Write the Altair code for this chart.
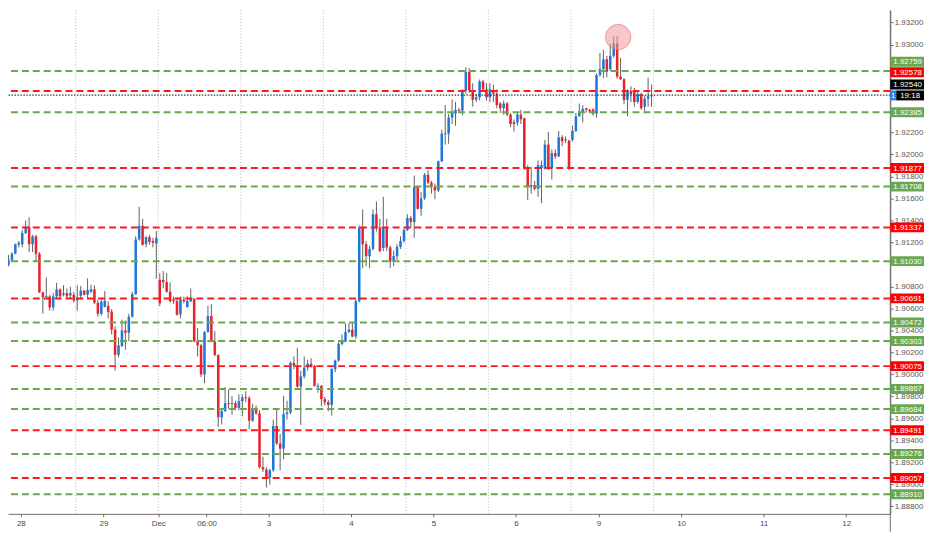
import altair as alt
import pandas as pd

# ---------------- data (hourly candles) ----------------
opens = [
    1.90997, 1.91040, 1.91097, 1.91181, 1.91184, 1.91285, 1.91342, 1.91184, 1.91256, 1.91097,
    1.90747, 1.90701, 1.90709, 1.90609, 1.90709, 1.90773, 1.90724, 1.90739, 1.90718, 1.90724,
    1.90672, 1.90715, 1.90761, 1.90724, 1.90752, 1.90773, 1.90652, 1.90551, 1.90614, 1.90623,
    1.90571, 1.90407, 1.90178, 1.90258, 1.90400, 1.90379, 1.90525, 1.90730, 1.91227, 1.91351,
    1.91184, 1.91248, 1.91213, 1.91190, 1.90859, 1.90859, 1.90839, 1.90752, 1.90681, 1.90666,
    1.90545, 1.90681, 1.90612, 1.90664, 1.90687, 1.90299, 1.90264, 1.89999, 1.90385, 1.90532,
    1.90299, 1.90178, 1.89611, 1.89665, 1.89738, 1.89732, 1.89738, 1.89695, 1.89755, 1.89790,
    1.89784, 1.89579, 1.89695, 1.89646, 1.89156, 1.89134, 1.89061, 1.89128, 1.89531, 1.89372,
    1.89324, 1.89639, 1.89654, 1.90105, 1.90077, 1.89890, 1.89982, 1.90062, 1.90097, 1.90077,
    1.89884, 1.89896, 1.89775, 1.89746, 1.89723, 1.90048, 1.90126, 1.90278, 1.90299, 1.90385,
    1.90407, 1.90344, 1.90666, 1.91336, 1.91184, 1.91075, 1.91141, 1.91457, 1.91336, 1.91150,
    1.91336, 1.91155, 1.91026, 1.91075, 1.91161, 1.91213, 1.91313, 1.91423, 1.91386, 1.91707,
    1.91506, 1.91601, 1.91817, 1.91744, 1.91707, 1.91673, 1.91938, 1.92184, 1.92190, 1.92335,
    1.92372, 1.92406, 1.92400, 1.92579, 1.92751, 1.92585, 1.92498, 1.92521, 1.92665, 1.92593,
    1.92521, 1.92585, 1.92555, 1.92464, 1.92421, 1.92464, 1.92363, 1.92294, 1.92291, 1.92363,
    1.92329, 1.91874, 1.91707, 1.91722, 1.91688, 1.91874, 1.91874, 1.92090, 1.91874, 1.92012,
    1.91983, 1.92156, 1.92139, 1.92127, 1.92133, 1.92214, 1.92348, 1.92386, 1.92419, 1.92406,
    1.92410, 1.92372, 1.92723, 1.92777, 1.92866, 1.92777, 1.92898, 1.93010, 1.92708, 1.92685,
    1.92497, 1.92579, 1.92570, 1.92478, 1.92550, 1.92435, 1.92507, 1.92530,
]
highs = [
    1.91086, 1.91112, 1.91190, 1.91213, 1.91313, 1.91399, 1.91429, 1.91270, 1.91270, 1.91112,
    1.90752, 1.90882, 1.90724, 1.90739, 1.90833, 1.90782, 1.90810, 1.90782, 1.90796, 1.90752,
    1.90810, 1.90804, 1.90767, 1.90873, 1.90816, 1.90810, 1.90681, 1.90681, 1.90758, 1.90666,
    1.90594, 1.90437, 1.90336, 1.90500, 1.90491, 1.90551, 1.90752, 1.91256, 1.91524, 1.91414,
    1.91259, 1.91270, 1.91242, 1.91304, 1.90922, 1.90940, 1.90922, 1.90836, 1.90707, 1.90698,
    1.90709, 1.90707, 1.90709, 1.90782, 1.90695, 1.90422, 1.90278, 1.90393, 1.90623, 1.90638,
    1.90393, 1.90178, 1.89689, 1.89884, 1.89861, 1.89803, 1.89760, 1.89818, 1.89818, 1.89847,
    1.89803, 1.89732, 1.89717, 1.89674, 1.89251, 1.89156, 1.89143, 1.89588, 1.89689, 1.89458,
    1.89803, 1.89760, 1.90120, 1.90163, 1.90241, 1.90034, 1.90163, 1.90135, 1.90148, 1.90086,
    1.89919, 1.89904, 1.89795, 1.89769, 1.90062, 1.90135, 1.90293, 1.90364, 1.90465, 1.90465,
    1.90465, 1.90681, 1.91354, 1.91500, 1.91213, 1.91170, 1.91500, 1.91572, 1.91414, 1.91615,
    1.91414, 1.91170, 1.91127, 1.91184, 1.91256, 1.91328, 1.91457, 1.91443, 1.91808, 1.91716,
    1.91658, 1.91831, 1.91860, 1.91759, 1.91736, 1.91946, 1.92225, 1.92449, 1.92369, 1.92501,
    1.92478, 1.92423, 1.92593, 1.92794, 1.92786, 1.92648, 1.92550, 1.92682, 1.92680, 1.92650,
    1.92650, 1.92636, 1.92593, 1.92478, 1.92492, 1.92478, 1.92378, 1.92320, 1.92378, 1.92406,
    1.92335, 1.91903, 1.91889, 1.91759, 1.91946, 1.91946, 1.92133, 1.92205, 1.92046, 1.92046,
    1.92214, 1.92176, 1.92165, 1.92133, 1.92262, 1.92378, 1.92464, 1.92449, 1.92426, 1.92415,
    1.92421, 1.92737, 1.92924, 1.92952, 1.92898, 1.93010, 1.93079, 1.93079, 1.92881, 1.92693,
    1.92593, 1.92622, 1.92607, 1.92579, 1.92564, 1.92536, 1.92699, 1.92637,
]
lows = [
    1.90983, 1.91026, 1.91092, 1.91155, 1.91155, 1.91276, 1.91112, 1.91112, 1.91026, 1.90739,
    1.90551, 1.90698, 1.90580, 1.90580, 1.90695, 1.90695, 1.90709, 1.90695, 1.90695, 1.90652,
    1.90580, 1.90681, 1.90718, 1.90681, 1.90739, 1.90638, 1.90525, 1.90534, 1.90609, 1.90508,
    1.90362, 1.90034, 1.90155, 1.90249, 1.90224, 1.90301, 1.90517, 1.90724, 1.91216, 1.91170,
    1.91155, 1.91179, 1.91155, 1.90871, 1.90620, 1.90784, 1.90741, 1.90652, 1.90638, 1.90534,
    1.90508, 1.90646, 1.90607, 1.90659, 1.90293, 1.90163, 1.89976, 1.89919, 1.90379, 1.90293,
    1.90163, 1.89522, 1.89545, 1.89660, 1.89689, 1.89631, 1.89674, 1.89674, 1.89617, 1.89746,
    1.89501, 1.89568, 1.89631, 1.89143, 1.89113, 1.88970, 1.88998, 1.89113, 1.89358, 1.89128,
    1.89229, 1.89588, 1.89639, 1.90048, 1.89878, 1.89539, 1.89962, 1.90034, 1.90062, 1.89890,
    1.89833, 1.89712, 1.89717, 1.89665, 1.89626, 1.90019, 1.90114, 1.90264, 1.90293, 1.90379,
    1.90336, 1.90321, 1.90655, 1.90965, 1.90983, 1.90968, 1.91127, 1.91299, 1.91112, 1.91121,
    1.91121, 1.90968, 1.90983, 1.91040, 1.91141, 1.91198, 1.91305, 1.91328, 1.91242, 1.91500,
    1.91443, 1.91587, 1.91731, 1.91644, 1.91593, 1.91658, 1.91932, 1.92090, 1.92098, 1.92277,
    1.92262, 1.92389, 1.92357, 1.92550, 1.92561, 1.92435, 1.92478, 1.92492, 1.92579, 1.92492,
    1.92478, 1.92478, 1.92421, 1.92378, 1.92363, 1.92348, 1.92248, 1.92208, 1.92262, 1.92277,
    1.91860, 1.91587, 1.91644, 1.91673, 1.91615, 1.91558, 1.91860, 1.91860, 1.91774, 1.91960,
    1.91975, 1.92076, 1.92104, 1.91860, 1.92119, 1.92205, 1.92346, 1.92291, 1.92380, 1.92380,
    1.92354, 1.92335, 1.92708, 1.92693, 1.92702, 1.92760, 1.92881, 1.92691, 1.92678, 1.92458,
    1.92348, 1.92478, 1.92435, 1.92464, 1.92406, 1.92392, 1.92435, 1.92435,
]
closes = [
    1.91046, 1.91097, 1.91184, 1.91198, 1.91285, 1.91342, 1.91184, 1.91256, 1.91097, 1.90747,
    1.90701, 1.90711, 1.90609, 1.90709, 1.90773, 1.90709, 1.90739, 1.90709, 1.90739, 1.90672,
    1.90698, 1.90761, 1.90724, 1.90767, 1.90773, 1.90652, 1.90551, 1.90661, 1.90670, 1.90566,
    1.90407, 1.90178, 1.90264, 1.90400, 1.90379, 1.90525, 1.90730, 1.91227, 1.91351, 1.91179,
    1.91248, 1.91204, 1.91198, 1.91242, 1.90646, 1.90839, 1.90752, 1.90666, 1.90666, 1.90543,
    1.90681, 1.90664, 1.90668, 1.90687, 1.90299, 1.90264, 1.89999, 1.90385, 1.90532, 1.90299,
    1.90178, 1.89611, 1.89665, 1.89738, 1.89729, 1.89736, 1.89695, 1.89755, 1.89790, 1.89784,
    1.89579, 1.89695, 1.89646, 1.89156, 1.89134, 1.89061, 1.89128, 1.89531, 1.89372, 1.89324,
    1.89639, 1.89654, 1.90105, 1.90077, 1.89890, 1.89982, 1.90062, 1.90097, 1.90077, 1.89896,
    1.89896, 1.89775, 1.89746, 1.89723, 1.90048, 1.90126, 1.90278, 1.90299, 1.90385, 1.90407,
    1.90344, 1.90666, 1.91336, 1.91184, 1.91075, 1.91141, 1.91457, 1.91336, 1.91121, 1.91336,
    1.91155, 1.91026, 1.91075, 1.91161, 1.91213, 1.91313, 1.91423, 1.91386, 1.91707, 1.91506,
    1.91601, 1.91817, 1.91744, 1.91707, 1.91673, 1.91938, 1.92190, 1.92190, 1.92335, 1.92378,
    1.92406, 1.92398, 1.92579, 1.92751, 1.92585, 1.92498, 1.92521, 1.92665, 1.92593, 1.92521,
    1.92593, 1.92555, 1.92449, 1.92421, 1.92464, 1.92363, 1.92277, 1.92277, 1.92363, 1.92320,
    1.91874, 1.91707, 1.91722, 1.91688, 1.91903, 1.91903, 1.92090, 1.91874, 1.92012, 1.91983,
    1.92156, 1.92119, 1.92130, 1.91869, 1.92214, 1.92348, 1.92386, 1.92415, 1.92406, 1.92392,
    1.92372, 1.92723, 1.92777, 1.92866, 1.92751, 1.92898, 1.93010, 1.92708, 1.92685, 1.92497,
    1.92579, 1.92550, 1.92478, 1.92550, 1.92421, 1.92507, 1.92530, 1.92540,
]

green_levels = [1.92759, 1.92385, 1.91708, 1.91030, 1.90472, 1.90303, 1.89867, 1.89684, 1.89276, 1.88910]
red_levels = [1.92578, 1.91877, 1.91337, 1.90691, 1.90075, 1.89491, 1.89057]
current_price = 1.92540
countdown_text = "19:18"
interval_text = "1"

session_breaks = [19.55, 43.55, 67.55, 91.55, 115.55, 139.55, 163.55, 187.55]
time_tick_pos = [3.6, 27.6, 43.55, 57.6, 75.6, 99.6, 123.6, 147.6, 171.6, 195.6, 219.6, 243.6]
time_tick_labels = ["28", "29", "Dec", "06:00", "3", "4", "5", "6", "9", "10", "11", "12"]
# price scale labels that are visible in the reference (those under the level tags are hidden)
price_ticks = [1.888, 1.890, 1.892, 1.894, 1.896, 1.898, 1.900, 1.902, 1.904, 1.906, 1.908,
               1.912, 1.914, 1.916, 1.918, 1.920, 1.922, 1.930, 1.932]
highlight_x = [177.3]
highlight_price = [1.93068]

# ---------------- layout / style ----------------
W, H = 890, 508
AX_W = 34
X_DOMAIN = [-0.14, 256.43]
Y_DOMAIN = [1.88731, 1.93312]
PX = (Y_DOMAIN[1] - Y_DOMAIN[0]) / H          # price per pixel
BLUE = "#1f78d8"
RED = "#e8232c"
GREEN_LINE = "#6aa84f"
RED_LINE = "#ff1a1a"
GREEN_BOX = "#6aa84f"
RED_BOX = "#ff0000"
FONT = "Liberation Sans"
label_shift_px = {1.92759: -9.4, 1.92578: -18.9}   # tags pushed up to avoid overlap
current_shift_px = -10.7
countdown_shift_px = 0.3

xs = alt.Scale(domain=X_DOMAIN, nice=False, zero=False)
ys = alt.Scale(domain=Y_DOMAIN, nice=False, zero=False)

# ---------------- tables ----------------
n = len(opens)
df = pd.DataFrame({"i": list(range(n)), "open": opens, "high": highs, "low": lows, "close": closes})
df["col"] = [BLUE if c >= o else RED for o, c in zip(opens, closes)]
lo = df[["open", "close"]].min(axis=1)
hi = df[["open", "close"]].max(axis=1)
mid = (lo + hi) / 2
thin = (hi - lo) < PX
df["b_lo"] = lo.where(~thin, mid - PX / 2)
df["b_hi"] = hi.where(~thin, mid + PX / 2)
df["xl"] = df["i"] - 0.37
df["xr"] = df["i"] + 0.37

levels = pd.DataFrame({
    "price": green_levels + red_levels,
    "line_col": [GREEN_LINE] * len(green_levels) + [RED_LINE] * len(red_levels),
    "box_col": [GREEN_BOX] * len(green_levels) + [RED_BOX] * len(red_levels),
})
levels["txt"] = [f"{p:.5f}" for p in levels["price"]]
levels["ly"] = [p - label_shift_px.get(p, 0.0) * PX for p in levels["price"]]

cur = pd.DataFrame({
    "price": [current_price],
    "txt": [f"{current_price:.5f}"],
    "ly": [current_price - current_shift_px * PX],
    "ly2": [current_price - countdown_shift_px * PX],
    "cd": [countdown_text],
    "iv": [interval_text],
})
seps = pd.DataFrame({"pos": session_breaks})
hl = pd.DataFrame({"x": highlight_x, "p": highlight_price})
base_row = pd.DataFrame({"v": [0]})

label_expr = " : ".join(
    f"abs(datum.value - {p}) < 0.01 ? '{t}'" for p, t in zip(time_tick_pos, time_tick_labels)
) + " : ''"

x_axis = alt.Axis(values=time_tick_pos, labelExpr=label_expr, title=None, grid=False,
                  tickSize=3, tickColor="#6d6d6d", domainColor="#6d6d6d", labelColor="#4a4a4a",
                  labelFont=FONT, labelFontSize=8, labelPadding=3, labelFlush=False,
                  labelOverlap=False)
y_axis = alt.Axis(orient="right", values=price_ticks, format=".5f", title=None, grid=False,
                  tickSize=3, tickColor="#6d6d6d", domainColor="#6d6d6d", labelColor="#555555",
                  labelFont=FONT, labelFontSize=8, labelPadding=1, labelOverlap=False,
                  labelFlush=False)


def X(field):
    return alt.X(field, scale=xs, axis=x_axis)


def Y(field):
    return alt.Y(field, scale=ys, axis=y_axis)


# ---------------- layers ----------------
sep_layer = alt.Chart(seps).mark_rule(color="#bcbcbc", strokeDash=[1, 2], strokeWidth=1).encode(
    x=X("pos:Q")
)

wicks = alt.Chart(df).mark_rule(color="#606060", strokeWidth=1).encode(
    x=X("i:Q"), y=Y("low:Q"), y2="high:Q",
)

bodies = alt.Chart(df).mark_rect().encode(
    x=X("xl:Q"), x2="xr:Q", y=Y("b_lo:Q"), y2="b_hi:Q",
    color=alt.Color("col:N", scale=None),
)

level_lines = alt.Chart(levels).mark_rule(strokeDash=[7, 4], strokeWidth=2).encode(
    y=Y("price:Q"), color=alt.Color("line_col:N", scale=None),
)

price_line = alt.Chart(cur).mark_rule(color="#3a3a3a", strokeDash=[1.5, 1.5], strokeWidth=1.2).encode(
    y=Y("price:Q")
)

highlight = alt.Chart(hl).mark_point(shape="circle", filled=True, size=660, fill="#f29b9b",
                                     fillOpacity=0.55, stroke="#e57373", strokeOpacity=0.6,
                                     strokeWidth=1).encode(
    x=X("x:Q"), y=Y("p:Q"),
)

right_line = alt.Chart(base_row).mark_rule(color="#6d6d6d", strokeWidth=1).encode(
    x=alt.value(W), y=alt.value(0), y2=alt.value(H + 18)
)

level_boxes = alt.Chart(levels).mark_rect(yOffset=-5, y2Offset=5).encode(
    x=alt.value(W), x2=alt.value(W + AX_W),
    y=Y("ly:Q"), y2="ly:Q",
    color=alt.Color("box_col:N", scale=None),
)
level_texts = alt.Chart(levels).mark_text(color="white", font=FONT, fontSize=8, align="center",
                                          baseline="middle", dy=0.5).encode(
    x=alt.value(W + AX_W / 2 + 0.5), y=Y("ly:Q"), text="txt:N"
)

cur_box = alt.Chart(cur).mark_rect(yOffset=-5, y2Offset=5, color="#000000").encode(
    x=alt.value(W), x2=alt.value(W + AX_W), y=Y("ly:Q"), y2="ly:Q"
)
cur_text = alt.Chart(cur).mark_text(color="white", font=FONT, fontSize=8, align="center",
                                    baseline="middle", dy=0.5).encode(
    x=alt.value(W + AX_W / 2 + 0.5), y=Y("ly:Q"), text="txt:N"
)
iv_box = alt.Chart(cur).mark_rect(yOffset=-5, y2Offset=5, color="#2a7fe0").encode(
    x=alt.value(W), x2=alt.value(W + 6), y=Y("ly2:Q"), y2="ly2:Q"
)
iv_text = alt.Chart(cur).mark_text(color="white", font=FONT, fontSize=8, align="center",
                                   baseline="middle", dy=0.5).encode(
    x=alt.value(W + 3), y=Y("ly2:Q"), text="iv:N"
)
cd_box = alt.Chart(cur).mark_rect(yOffset=-5, y2Offset=5, color="#000000").encode(
    x=alt.value(W + 6), x2=alt.value(W + AX_W), y=Y("ly2:Q"), y2="ly2:Q"
)
cd_text = alt.Chart(cur).mark_text(color="white", font=FONT, fontSize=8, align="center",
                                   baseline="middle", dy=0.5).encode(
    x=alt.value(W + 20), y=Y("ly2:Q"), text="cd:N"
)

chart = alt.layer(
    sep_layer, wicks, bodies, level_lines, price_line, highlight, right_line,
    level_boxes, level_texts, cur_box, cur_text, iv_box, iv_text, cd_box, cd_text,
).properties(
    width=W, height=H,
    padding={"left": 0, "top": 0, "right": AX_W, "bottom": 18},
    autosize=alt.AutoSizeParams(type="none"),
    background="white",
).configure_view(stroke=None)

chart.save("out.html", embed_options={"renderer": "svg", "actions": False})
